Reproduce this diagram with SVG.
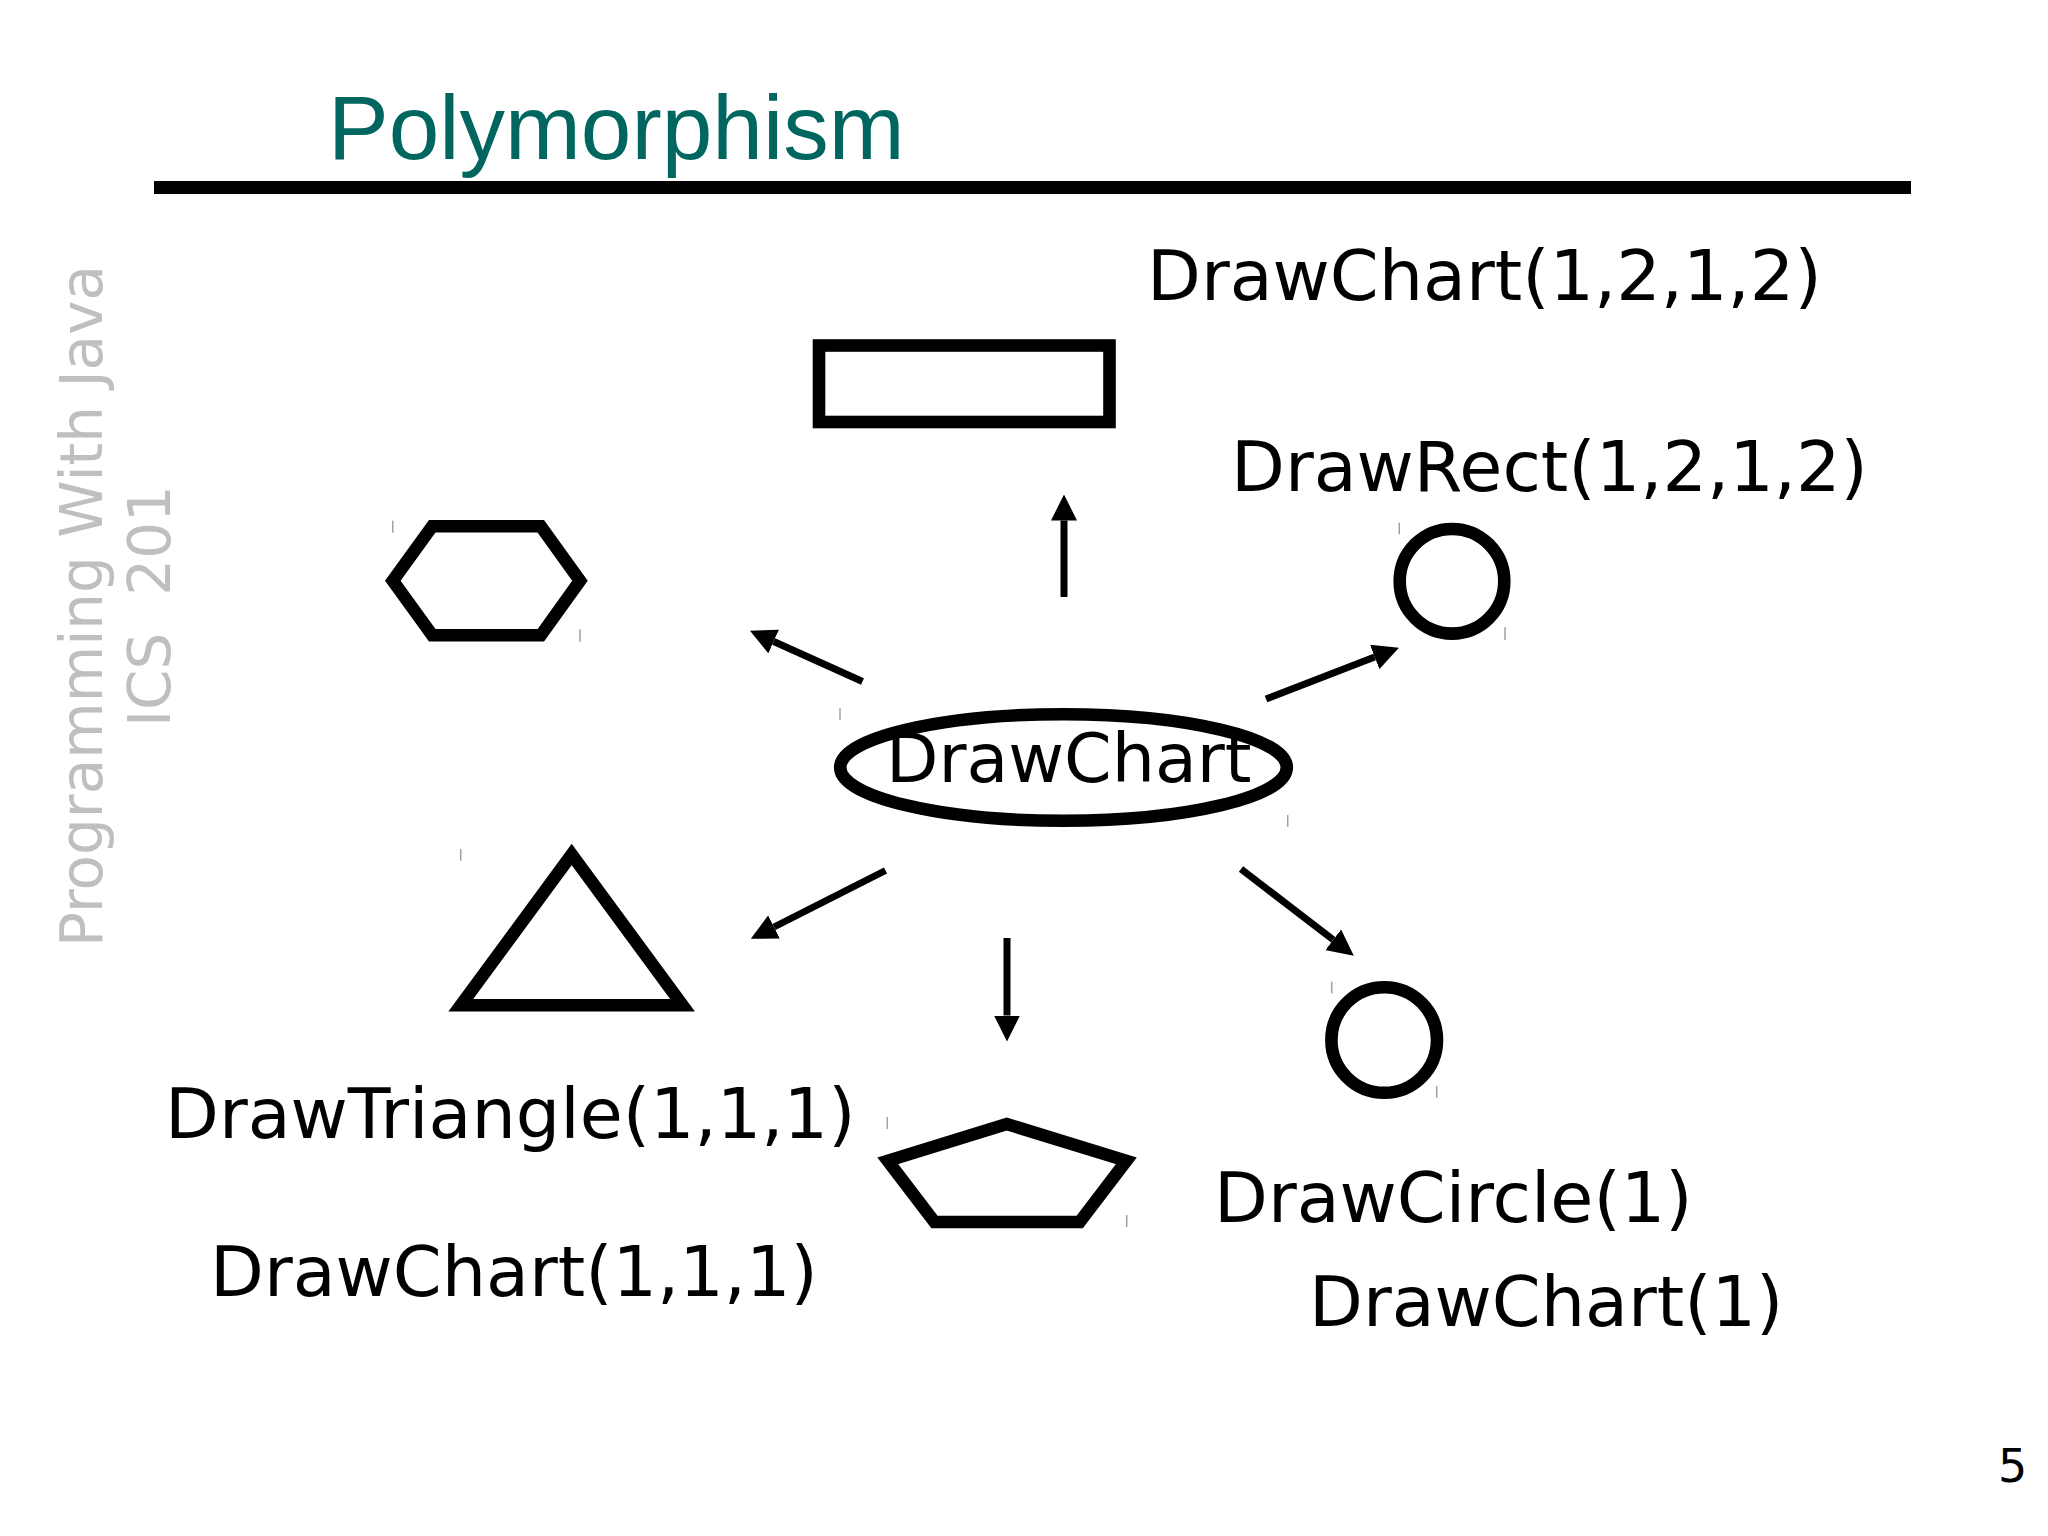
<svg xmlns="http://www.w3.org/2000/svg" width="2048" height="1536" viewBox="0 0 2048 1536">
<style>
.shape{fill:none;stroke:#000;stroke-width:12.6;stroke-linejoin:miter}
.lbl{font-family:"DejaVu Sans","Verdana",sans-serif;font-size:70px;fill:#000}
.side{font-family:"DejaVu Sans","Verdana",sans-serif;font-size:58px;fill:#bfbfbf}
.arrow{stroke:#000;stroke-width:7;fill:none;marker-end:url(#ah)}
.tick{stroke:#a0a0a0;stroke-width:1.5}
</style>
<defs>
<marker id="ah" markerUnits="userSpaceOnUse" markerWidth="26" markerHeight="26" viewBox="0 0 25 25" refX="0" refY="12.5" orient="auto">
<path d="M0,0 L25,12.5 L0,25 z" fill="#000"/>
</marker>
</defs>
<rect width="2048" height="1536" fill="#fff"/>
<g id="title">
<text x="328" y="159" font-family="'Liberation Sans',Arial,sans-serif" font-size="91" fill="#00665f">Polymorphism</text>
<rect x="154" y="181" width="1757" height="13" fill="#000"/>
</g>
<g id="sidebar">
<text class="side" transform="translate(102,606) rotate(-90)" text-anchor="middle">Programming With Java</text>
<text class="side" transform="translate(170,606) rotate(-90)" text-anchor="middle" xml:space="preserve">ICS  201</text>
</g>
<g id="page-number">
<text x="1998" y="1482" font-family="'DejaVu Sans',sans-serif" font-size="46" fill="#000">5</text>
</g>
<g id="node-drawchart">
<ellipse class="shape" cx="1063.5" cy="767.5" rx="223.3" ry="53.3"/>
<text x="886" y="782" font-family="'DejaVu Sans','Verdana',sans-serif" font-size="68.2" fill="#000">DrawChart</text>
</g>
<g id="node-rect">
<rect class="shape" x="819" y="345.5" width="290.5" height="76.5"/>
</g>
<g id="node-hexagon">
<polygon class="shape" points="392.8,580.7 432.2,526.3 540.8,526.3 580,580.7 540.8,635.3 432.2,635.3"/>
</g>
<g id="node-circle-top">
<circle class="shape" cx="1452" cy="581.3" r="52.3"/>
</g>
<g id="node-triangle">
<polygon class="shape" points="571.7,854.5 682.5,1005.3 460.8,1005.3"/>
</g>
<g id="node-pentagon">
<polygon class="shape" points="1006.7,1124 1126.3,1160.8 1079.7,1222 934.5,1222 887.8,1160.8"/>
</g>
<g id="node-circle-bottom">
<circle class="shape" cx="1384.2" cy="1040" r="52.8"/>
</g>
<g id="labels">
<text class="lbl" x="1147" y="300">DrawChart(1,2,1,2)</text>
<text class="lbl" x="1231" y="491">DrawRect(1,2,1,2)</text>
<text class="lbl" x="165" y="1138" font-size="70.5">DrawTriangle(1,1,1)</text>
<text class="lbl" x="210" y="1296">DrawChart(1,1,1)</text>
<text class="lbl" x="1214" y="1222" font-size="69.3">DrawCircle(1)</text>
<text class="lbl" x="1309" y="1326" font-size="69.6">DrawChart(1)</text>
</g>
<g id="connectors">
<line class="arrow" x1="1064" y1="597" x2="1064" y2="520.5"/>
<line class="arrow" x1="862.5" y1="681.5" x2="773.7" y2="641.5"/>
<line class="arrow" x1="1266" y1="699" x2="1374.7" y2="657"/>
<line class="arrow" x1="885.5" y1="870.5" x2="774" y2="927"/>
<line class="arrow" x1="1007" y1="938" x2="1007" y2="1015.5"/>
<line class="arrow" x1="1241" y1="869" x2="1333.2" y2="939.8"/>
</g>
<g id="ticks">
<line class="tick" x1="392.7" y1="520.7" x2="392.7" y2="532.7"/>
<line class="tick" x1="580" y1="629.3" x2="580" y2="641.7"/>
<line class="tick" x1="840" y1="708" x2="840" y2="720"/>
<line class="tick" x1="1287.7" y1="815" x2="1287.7" y2="827"/>
<line class="tick" x1="1399.3" y1="522.7" x2="1399.3" y2="534.3"/>
<line class="tick" x1="1505" y1="627" x2="1505" y2="640"/>
<line class="tick" x1="460.7" y1="849" x2="460.7" y2="860.7"/>
<line class="tick" x1="887.3" y1="1117" x2="887.3" y2="1129"/>
<line class="tick" x1="1126.7" y1="1215" x2="1126.7" y2="1227"/>
<line class="tick" x1="1331.7" y1="981.7" x2="1331.7" y2="993.3"/>
<line class="tick" x1="1436.7" y1="1086" x2="1436.7" y2="1097.7"/>
</g>
</svg>
